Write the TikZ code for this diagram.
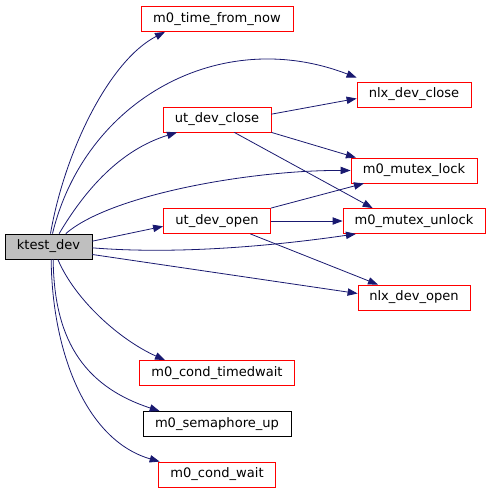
\documentclass[tikz,border=0pt]{standalone}
\usepackage{fontspec}
\setmainfont{DejaVu Sans}
\usetikzlibrary{arrows.meta}
\definecolor{edgec}{HTML}{191970}
\definecolor{redb}{HTML}{FF0000}
\definecolor{grayf}{HTML}{BFBFBF}
\begin{document}
\begin{tikzpicture}[x=0.75pt,y=-0.75pt,
  fn/.style={draw=redb,fill=white,line width=0.6pt,inner sep=0pt,minimum height=18.75pt,font=\fontsize{9.8}{11}\selectfont},
  fnb/.style={fn,draw=black},
  root/.style={fn,draw=black,fill=grayf},
  edge/.style={draw=edgec,line width=0.6pt,-{Triangle[length=7.5pt,width=5.5pt]}}]
\useasboundingbox (0,0) rectangle (491,493);
\node[root,minimum width=65.25pt] (kt) at (48.5,246.5) {ktest\_dev};
\node[fn,minimum width=114pt] (tfn) at (217,19) {m0\_time\_from\_now};
\node[fn,minimum width=81pt] (udc) at (217,119.5) {ut\_dev\_close};
\node[fn,minimum width=85.5pt] (ndc) at (414,94.5) {nlx\_dev\_close};
\node[fn,minimum width=94.5pt] (ml) at (414,170.5) {m0\_mutex\_lock};
\node[fn,minimum width=106.5pt] (mu) at (414,221) {m0\_mutex\_unlock};
\node[fn,minimum width=80.25pt] (udo) at (217,221) {ut\_dev\_open};
\node[fn,minimum width=84pt] (ndo) at (414,297.5) {nlx\_dev\_open};
\node[fn,minimum width=116.25pt] (ctw) at (217,373) {m0\_cond\_timedwait};
\node[fnb,minimum width=111pt] (su) at (217,424) {m0\_semaphore\_up};
\node[fn,minimum width=87.75pt] (cw) at (217,474.5) {m0\_cond\_wait};
% from ktest_dev
\draw[edge] ([xshift=1.5pt]kt.north) .. controls (65,150) and (110,60) .. ([xshift=-39pt]tfn.south);
\draw[edge] ([xshift=3pt]kt.north) .. controls (85,100) and (220,25) .. ([yshift=3pt]ndc.north west);
\draw[edge] ([xshift=8pt]kt.north) .. controls (85,190) and (120,150) .. ([xshift=-30pt]udc.south);
\draw[edge] ([xshift=13pt]kt.north) .. controls (110,195) and (250,170) .. (ml.west);
\draw[edge] ([yshift=4pt]kt.east) -- ([yshift=-4pt]udo.west);
\draw[edge] ([yshift=-1pt]kt.east) .. controls (180,255) and (280,245) .. ([xshift=10pt]mu.south west);
\draw[edge] ([yshift=-6pt]kt.east) -- ([yshift=3pt]ndo.west);
\draw[edge] ([xshift=7pt]kt.south) .. controls (75,300) and (120,340) .. ([xshift=-39pt]ctw.north);
\draw[edge] ([xshift=3.5pt]kt.south) .. controls (54,335) and (80,385) .. ([xshift=-43pt]su.north);
\draw[edge] ([xshift=2pt]kt.south) .. controls (52,350) and (85,440) .. ([xshift=-43pt]cw.north);
% from ut_dev_close
\draw[edge] ([yshift=4pt]udc.east) -- ([yshift=-3pt]ndc.west);
\draw[edge] (udc.south east) -- ([xshift=4pt]ml.north west);
\draw[edge] ([xshift=13pt]udc.south) -- ([xshift=-31pt]mu.north);
% from ut_dev_open
\draw[edge] (udo.north east) -- ([xshift=10pt]ml.south west);
\draw[edge] (udo.east) -- (mu.west);
\draw[edge] ([xshift=25pt]udo.south) -- ([xshift=-27pt]ndo.north);
\end{tikzpicture}
\end{document}
